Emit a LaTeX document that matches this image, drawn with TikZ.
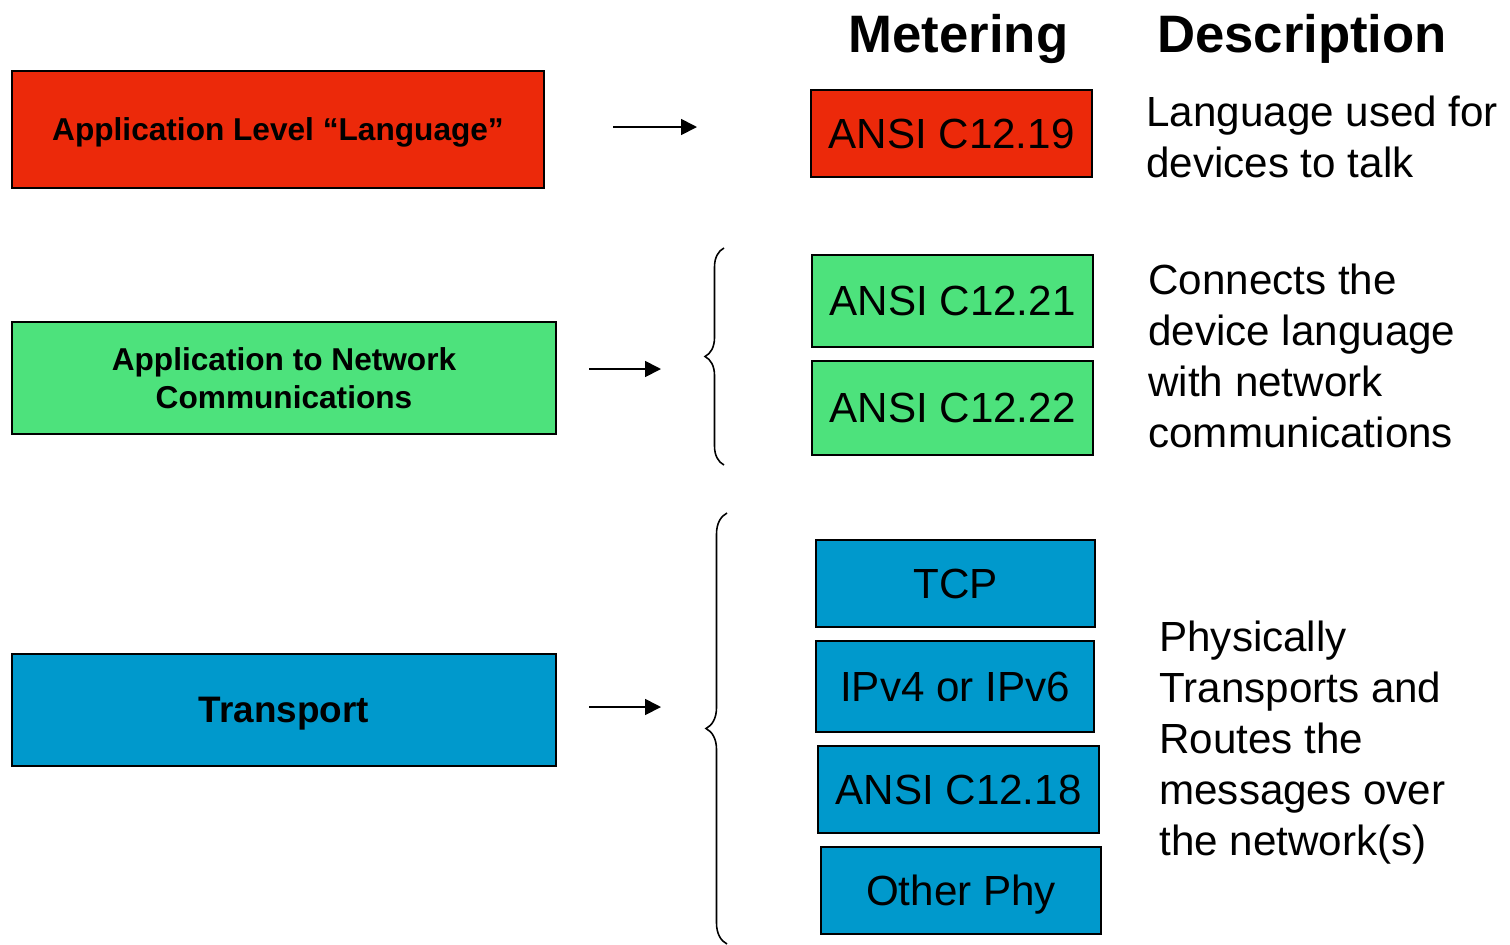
\documentclass[tikz,border=0pt]{standalone}
\usepackage{fontspec}
\setmainfont{Liberation Sans}
\usepackage{tikz}
\usetikzlibrary{arrows.meta}
\usetikzlibrary{decorations.pathreplacing}

\definecolor{langred}{RGB}{236,41,10}
\definecolor{netgreen}{RGB}{77,226,124}
\definecolor{transblue}{RGB}{0,153,204}

\begin{document}
\begin{tikzpicture}
                [x=0.02cm, y=-0.02cm,
                 box/.style = {draw, line width=1.1pt, inner sep=0pt, text depth=0pt, align=center},
                 layer/.style = {box, font=\bfseries\fontsize{18}{21.5}\selectfont},
                 std/.style = {box, minimum width=5.62cm, minimum height=1.76cm, font=\fontsize{24}{29}\selectfont},
                 head/.style = {anchor=base, inner sep=0pt, font=\bfseries\fontsize{30}{36}\selectfont},
                 desc/.style = {anchor=west, inner sep=0pt, align=left, font=\fontsize{24}{29}\selectfont},
                 arr/.style = {line width=1pt, -{Triangle[length=0.32cm, width=0.32cm]}},
                 brace/.style = {line width=0.9pt, decorate, decoration={brace, amplitude=#1}}]
    \useasboundingbox (0,0) rectangle (1510,944);

    % left column: the three layers
    \node[layer, fill=langred, minimum width=10.64cm, minimum height=2.34cm] (lang) at (278,129.5) {Application Level “Language”};
    \node[layer, fill=netgreen, minimum width=10.88cm, minimum height=2.24cm] (netcomm) at (284,378) {Application to Network\\Communications};
    \node[layer, fill=transblue, minimum width=10.88cm, minimum height=2.24cm, font=\bfseries\fontsize{21}{25}\selectfont] (transport) at (284,710) {Transport};

    % column headings
    \node[head] (metering) at (958.5,52) {Metering};
    \node[head] (description) at (1302,52) {Description};

    % metering standards
    \node[std, fill=langred, minimum height=1.74cm] (c1219) at (951.5,133.5) {ANSI C12.19};
    \node[std, fill=netgreen, minimum height=1.84cm] (c1221) at (952.5,301) {ANSI C12.21};
    \node[std, fill=netgreen, minimum height=1.88cm] (c1222) at (952.5,408) {ANSI C12.22};
    \node[std, fill=transblue, minimum width=5.58cm, minimum height=1.74cm] (tcp) at (955.5,583.5) {TCP};
    \node[std, fill=transblue, minimum width=5.56cm, minimum height=1.82cm] (ip) at (955,686.5) {IPv4 or IPv6};
    \node[std, fill=transblue, minimum height=1.74cm] (c1218) at (958.5,789.5) {ANSI C12.18};
    \node[std, fill=transblue, minimum width=5.6cm, minimum height=1.74cm] (phy) at (961,890.5) {Other Phy};

    % descriptions
    \node[desc] (desclang) at (1146,137) {Language used for\\devices to talk};
    \node[desc] (descnet) at (1148,356) {Connects the\\device language\\with network\\communications};
    \node[desc] (desctrans) at (1159,742.5) {Physically\\Transports and\\Routes the\\messages over\\the network(s)};

    % arrows
    \coordinate (a1) at (613,127);
    \coordinate (a2) at (589,369);
    \coordinate (a3) at (589,707);
    \draw[arr] (a1) -- ++(84,0);
    \draw[arr] (a2) -- ++(72,0);
    \draw[arr] (a3) -- ++(72,0);

    % braces
    \draw[brace=0.38cm] (724,465) -- (724,248);
    \draw[brace=0.42cm] (727,944) -- (727,513);
            \end{tikzpicture}
\end{document}
